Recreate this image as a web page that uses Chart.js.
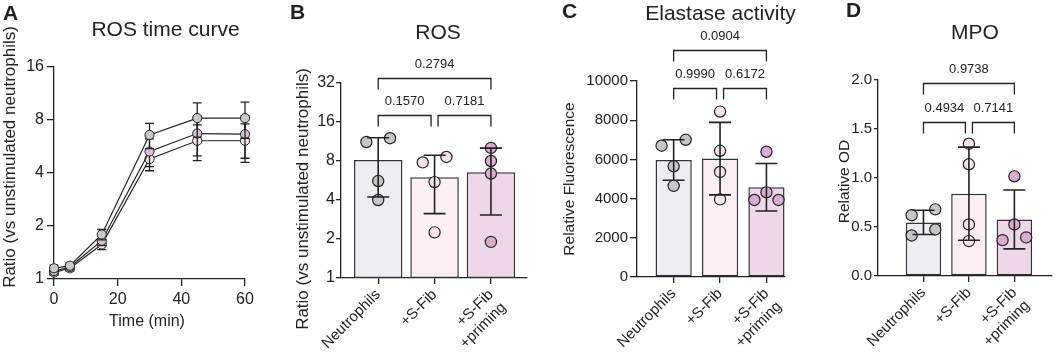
<!DOCTYPE html>
<html>
<head>
<meta charset="utf-8">
<script src="https://cdn.jsdelivr.net/npm/chart.js@4.4.1/dist/chart.umd.min.js"></script>
<style>
  html, body { margin: 0; padding: 0; background: #fff; overflow: hidden; }
  #fig { position: relative; width: 1058px; height: 354px; }
  #fig canvas { position: absolute; left: 0; top: 0; }
</style>
</head>
<body>
<div id="fig">
  <canvas id="panelA" width="1058" height="354"></canvas>
  <canvas id="panelB" width="1058" height="354"></canvas>
  <canvas id="panelC" width="1058" height="354"></canvas>
  <canvas id="panelD" width="1058" height="354"></canvas>
</div>
<script>
// ---- data ----
const groupTicks = ['Neutrophils', '+S-Fib', ['+S-Fib', '+priming']];

// A: ROS time curve
const timeMin = [0, 5, 15, 30, 45, 60];
const timeTicks = [0, 20, 40, 60];
const curveTicks = [1, 2, 4, 8, 16];
const curveNeut = [1.15, 1.19, 1.79, 6.58, 8.2, 8.2];
const curveNeutSd = [0.05, 0.04, 0.12, 1.08, 1.8, 1.9];
const curvePrimed = [1.11, 1.17, 1.65, 5.3, 6.7, 6.65];
const curvePrimedSd = [0.04, 0.04, 0.1, 0.95, 1.7, 1.8];
const curveFib = [1.09, 1.15, 1.57, 4.8, 6.1, 6.1];
const curveFibSd = [0.04, 0.04, 0.1, 0.68, 1.4, 1.5];

// B: ROS
const rosTicks = [1, 2, 4, 8, 16, 32];
const rosMean = [8.15, 6.0, 6.56];
const rosSd = [3.93, 2.86, 3.5];
const rosNeut = [11.2, 12.0, 5.6, 4.0];
const rosFib = [7.8, 8.6, 5.5, 2.25];
const rosPrimed = [10.1, 8.0, 6.4, 1.9];
const rosP = ['0.1570', '0.7181', '0.2794'];

// C: Elastase activity
const elaTicks = [0, 2000, 4000, 6000, 8000, 10000];
const elaMean = [5970, 6040, 4580];
const elaSd = [1035, 1850, 1210];
const elaNeut = [6700, 7000, 5650, 4650];
const elaFib = [8440, 6440, 5360, 3960];
const elaPrimed = [6390, 4320, 3930, 3930];
const elaP = ['0.9990', '0.6172', '0.0904'];

// D: MPO
const mpoTicks = [0, 0.5, 1, 1.5, 2];
const mpoMean = [0.547, 0.84, 0.577];
const mpoSd = [0.124, 0.475, 0.30];
const mpoNeut = [0.62, 0.68, 0.414, 0.475];
const mpoFib = [1.35, 1.14, 0.526, 0.356];
const mpoPrimed = [1.017, 0.526, 0.366, 0.394];
const mpoP = ['0.4934', '0.7141', '0.9738'];

// ---- style ----
const FONT = "'Liberation Sans', Arial, Helvetica, sans-serif";
const INK = '#222';
const barFill = ['#eceef2', '#fcf0f5', '#ecd8e8'];
const dotFill = ['#c6c6c6', '#f8e2eb', '#d9acd1'];
const W = 1058, H = 354, YW = 80;
Chart.defaults.font.family = FONT;
Chart.defaults.color = INK;

// Prism-like spreading of dots that would overlap
function swarm(vals, norm, thr, d) {
  const idx = vals.map((v, i) => i).sort((a, b) => vals[b] - vals[a]);
  const off = new Array(vals.length).fill(0);
  let cluster = [];
  const flush = () => {
    const odd = cluster.length % 2;
    let step = 1;
    for (let j = odd; j + 1 < cluster.length; j += 2) {
      off[cluster[j]] = step * d;      // higher value to the right
      off[cluster[j + 1]] = -step * d;
      step++;
    }
    cluster = [];
  };
  idx.forEach(i => {
    if (cluster.length && norm(vals[cluster[cluster.length - 1]]) - norm(vals[i]) >= thr) flush();
    cluster.push(i);
  });
  flush();
  return off;
}

// error bars, mean +/- sd through the chart scales
function drawErr(chart, s) {
  const {ctx, scales: {x, y}} = chart;
  ctx.save();
  ctx.strokeStyle = INK;
  ctx.lineWidth = s.width || 1.5;
  s.x.forEach((xv, i) => {
    const px = x.getPixelForValue(xv);
    const top = y.getPixelForValue(s.mean[i] + s.sd[i]);
    const bot = y.getPixelForValue(s.mean[i] - s.sd[i]);
    ctx.beginPath();
    ctx.moveTo(px, top); ctx.lineTo(px, bot);
    ctx.moveTo(px - s.cap, top); ctx.lineTo(px + s.cap, top);
    ctx.moveTo(px - s.cap, bot); ctx.lineTo(px + s.cap, bot);
    ctx.stroke();
  });
  ctx.restore();
}

const errorBars = {
  id: 'errorBars',
  beforeDatasetDraw(chart, args, opts) {
    for (const s of opts.sets || []) if (s.dataset === args.index) drawErr(chart, s);
  },
  afterDatasetsDraw(chart, args, opts) {
    for (const s of opts.sets || []) if (s.dataset === undefined) drawErr(chart, s);
  }
};

const brackets = {
  id: 'brackets',
  afterDraw(chart, args, opts) {
    if (!opts.items) return;
    const {ctx, scales: {x, y}} = chart;
    ctx.save();
    ctx.strokeStyle = INK;
    ctx.fillStyle = INK;
    ctx.lineWidth = 1.3;
    ctx.font = '13px ' + FONT;
    ctx.textAlign = 'center';
    ctx.textBaseline = 'middle';
    for (const b of opts.items) {
      let x0 = x.getPixelForValue(b.from);
      let x1 = x.getPixelForValue(b.to);
      if (b.from === 1) x0 += 3.5;
      if (b.to === 1) x1 -= 3.5;
      const py = Math.round(y.getPixelForValue(b.level)) + 0.5;
      ctx.beginPath();
      ctx.moveTo(x0, py + 11); ctx.lineTo(x0, py); ctx.lineTo(x1, py); ctx.lineTo(x1, py + 11);
      ctx.stroke();
      ctx.fillText(b.text, (x0 + x1) / 2, py - 14);
    }
    ctx.restore();
  }
};

const figText = {
  id: 'figText',
  afterDraw(chart, args, opts) {
    const ctx = chart.ctx;
    for (const t of opts.items || []) {
      ctx.save();
      ctx.translate(t.x, t.y);
      if (t.rot) ctx.rotate(t.rot);
      ctx.font = t.font + ' ' + FONT;
      ctx.fillStyle = INK;
      ctx.textAlign = 'center';
      ctx.textBaseline = 'middle';
      ctx.fillText(t.text, 0, 0);
      ctx.restore();
    }
  }
};

const axisGrid = (len) => ({ drawOnChartArea: false, drawTicks: true, tickLength: len, color: INK, lineWidth: 1.3, offset: false });
const axisBorder = { display: true, color: INK, width: 1.3 };

function padFor(plot) {
  return { left: plot.left - YW, right: W - plot.right, top: plot.top, bottom: 0 };
}

function yScale(type, ticks, size, tickLen, pad, fmt) {
  return {
    type, min: ticks[0], max: ticks[ticks.length - 1], bounds: 'data',
    afterBuildTicks: s => { s.ticks = ticks.map(v => ({value: v})); },
    afterFit: s => { s.width = YW; },
    ticks: { font: {size}, color: INK, padding: pad, callback: fmt || (v => String(v)) },
    grid: axisGrid(tickLen),
    border: axisBorder
  };
}

// ---- panel A ----
const plotA = {left: 54, right: 245, top: 67, bottom: 279};
function curve(vals, fill) {
  return {
    data: timeMin.map((t, i) => ({x: t, y: vals[i]})),
    borderColor: INK, borderWidth: 1.2,
    pointRadius: 4.6, pointBackgroundColor: fill, pointBorderColor: INK, pointBorderWidth: 1,
    clip: false, tension: 0
  };
}
new Chart(document.getElementById('panelA'), {
  type: 'line',
  data: { datasets: [
    curve(curveNeut, '#c8c8c8'),
    curve(curvePrimed, '#dcbcd7'),
    curve(curveFib, '#fae6ee')
  ] },
  options: {
    animation: false, responsive: false, events: [],
    layout: { padding: padFor(plotA) },
    scales: {
      x: {
        type: 'linear', min: 0, max: 60, bounds: 'data',
        afterBuildTicks: s => { s.ticks = timeTicks.map(v => ({value: v})); },
        afterFit: s => { s.height = H - plotA.bottom; },
        ticks: { font: {size: 16}, color: INK, maxRotation: 0, padding: 4 },
        grid: axisGrid(7), border: axisBorder
      },
      y: yScale('logarithmic', curveTicks, 16, 7, 3)
    },
    plugins: {
      legend: {display: false}, tooltip: {enabled: false},
      errorBars: { sets: [
        {dataset: 2, x: timeMin, mean: curveFib, sd: curveFibSd, cap: 4.5, width: 1.3},
        {dataset: 1, x: timeMin, mean: curvePrimed, sd: curvePrimedSd, cap: 4.5, width: 1.3},
        {dataset: 0, x: timeMin, mean: curveNeut, sd: curveNeutSd, cap: 4.5, width: 1.3}
      ] },
      figText: { items: [
        {text: 'A', x: 10.5, y: 14.5, font: 'bold 21px'},
        {text: 'ROS time curve', x: 165.5, y: 30, font: '21px'},
        {text: 'Ratio (vs unstimulated neutrophils)', x: 10, y: 157, rot: -Math.PI / 2, font: '17px'},
        {text: 'Time (min)', x: 147, y: 322, font: '16px'}
      ] }
    }
  },
  plugins: [errorBars, figText]
});

// ---- bar panels B, C, D ----
function barPanel(id, p) {
  const dots = p.points.map((vals, gi) => {
    const off = swarm(vals, p.norm, 0.06, p.spread);
    return {
      type: 'scatter', order: 1,
      data: vals.map((v, k) => ({x: gi + off[k], y: v})),
      backgroundColor: dotFill[gi], borderColor: INK, borderWidth: 1.2,
      pointRadius: 5.6, clip: false
    };
  });
  new Chart(document.getElementById(id), {
    type: 'bar',
    data: { datasets: [
      {
        type: 'bar', order: 2,
        data: p.mean.map((m, i) => ({x: i, y: m})),
        backgroundColor: barFill, borderColor: '#333', borderWidth: 1.5, borderSkipped: false,
        barPercentage: p.barPct, categoryPercentage: 1
      },
      ...dots
    ] },
    options: {
      animation: false, responsive: false, events: [],
      layout: { padding: padFor(p.plot) },
      scales: {
        x: {
          type: 'linear', min: p.xMin, max: p.xMax, bounds: 'data', offset: false,
          afterBuildTicks: s => { s.ticks = [0, 1, 2].map(v => ({value: v})); },
          afterFit: s => { s.height = H - p.plot.bottom; },
          ticks: { font: {size: 15}, color: INK, minRotation: 45, maxRotation: 45, autoSkip: false, padding: 2,
                   callback: v => groupTicks[v] },
          grid: axisGrid(6), border: axisBorder
        },
        y: yScale(p.yType, p.yTicks, p.tickSize, p.tickLen, p.tickPad, p.fmt)
      },
      plugins: {
        legend: {display: false}, tooltip: {enabled: false},
        errorBars: { sets: [{x: [0, 1, 2], mean: p.mean, sd: p.sd, cap: 11, width: 1.6}] },
        brackets: { items: [
          {from: 0, to: 1, text: p.pvals[0], level: p.levels[0]},
          {from: 1, to: 2, text: p.pvals[1], level: p.levels[0]},
          {from: 0, to: 2, text: p.pvals[2], level: p.levels[1]}
        ] },
        figText: { items: p.texts }
      }
    },
    plugins: [errorBars, brackets, figText]
  });
}

barPanel('panelB', {
  plot: {left: 341, right: 527, top: 83, bottom: 278}, xMin: -0.66, xMax: 2.64, barPct: 0.86,
  yType: 'logarithmic', yTicks: rosTicks, tickSize: 16, tickLen: 5, tickPad: 1,
  mean: rosMean, sd: rosSd, points: [rosNeut, rosFib, rosPrimed],
  norm: v => Math.log(v) / Math.log(32), spread: 0.21,
  pvals: rosP, levels: [18.1, 35.2],
  texts: [
    {text: 'B', x: 297.5, y: 13.5, font: 'bold 21px'},
    {text: 'ROS', x: 438, y: 33, font: '21px'},
    {text: 'Ratio (vs unstimulated neutrophils)', x: 303.5, y: 199, rot: -Math.PI / 2, font: '17px'}
  ]
});

barPanel('panelC', {
  plot: {left: 637, right: 785, top: 81, bottom: 277}, xMin: -0.79, xMax: 2.40, barPct: 0.78,
  yType: 'linear', yTicks: elaTicks, tickSize: 15, tickLen: 7, tickPad: 2,
  mean: elaMean, sd: elaSd, points: [elaNeut, elaFib, elaPrimed],
  norm: v => v / 10000, spread: 0.26,
  pvals: elaP, levels: [9630, 11580],
  texts: [
    {text: 'C', x: 569.7, y: 12.5, font: 'bold 21px'},
    {text: 'Elastase activity', x: 720.5, y: 14, font: '21px'},
    {text: 'Relative Fluorescence', x: 570, y: 179, rot: -Math.PI / 2, font: '15.5px'}
  ]
});

barPanel('panelD', {
  plot: {left: 878, right: 1055, top: 80, bottom: 276}, xMin: -1.0, xMax: 2.81, barPct: 0.78,
  yType: 'linear', yTicks: mpoTicks, tickSize: 15, tickLen: 4, tickPad: 2, fmt: v => v.toFixed(1),
  mean: mpoMean, sd: mpoSd, points: [mpoNeut, mpoFib, mpoPrimed],
  norm: v => v / 2, spread: 0.26,
  pvals: mpoP, levels: [1.568, 1.972],
  texts: [
    {text: 'D', x: 853.7, y: 11.5, font: 'bold 21px'},
    {text: 'MPO', x: 975, y: 33, font: '21px'},
    {text: 'Relative OD', x: 845, y: 181.5, rot: -Math.PI / 2, font: '15.5px'}
  ]
});
</script>
</body>
</html>
